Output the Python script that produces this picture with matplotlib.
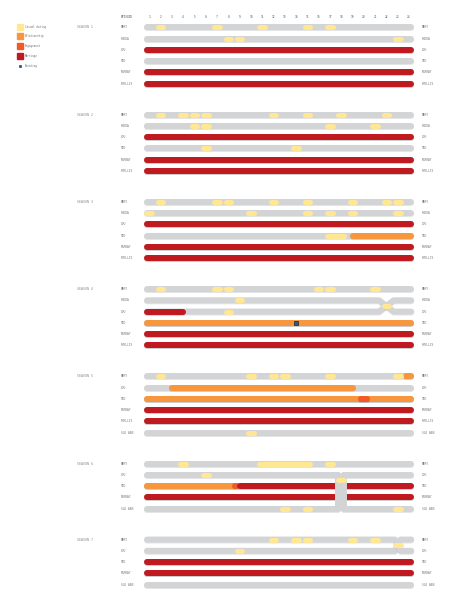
import matplotlib
matplotlib.use("Agg")
import matplotlib.pyplot as plt
import matplotlib.patheffects as pe

episodes = list(range(1, 25))
seasons = ["SEASON 1", "SEASON 2", "SEASON 3", "SEASON 4", "SEASON 5", "SEASON 6", "SEASON 7"]

cast = [
    ["MARY", "RHODA", "LOU", "TED", "MURRAY", "PHYLLIS"],
    ["MARY", "RHODA", "LOU", "TED", "MURRAY", "PHYLLIS"],
    ["MARY", "RHODA", "LOU", "TED", "MURRAY", "PHYLLIS"],
    ["MARY", "RHODA", "LOU", "TED", "MURRAY", "PHYLLIS"],
    ["MARY", "LOU", "TED", "MURRAY", "PHYLLIS", "SUE ANN"],
    ["MARY", "LOU", "TED", "MURRAY", "SUE ANN"],
    ["MARY", "LOU", "TED", "MURRAY", "SUE ANN"],
]

# casual dates per season: episode or (first, last)
casual = [
    {"MARY": [2, 7, 11, 15, 17], "RHODA": [8, 9, 23]},
    {"MARY": [2, 4, 5, 6, 12, 15, 18, 22], "RHODA": [5, 6, 17, 21], "TED": [6, 14]},
    {"MARY": [2, 7, 8, 12, 15, 19, 22, 23], "RHODA": [1, 10, 15, 17, 19, 23], "TED": [(17, 18)]},
    {"MARY": [2, 7, 8, 16, 17, 21], "RHODA": [9], "LOU": [8]},
    {"MARY": [2, 10, 12, 13, 17, 23], "SUE ANN": [10]},
    {"MARY": [4, (11, 15), 17], "LOU": [6], "SUE ANN": [13, 15, 23]},
    {"MARY": [12, 14, 15, 19, 21], "LOU": [9]},
]

# (person, status, first ep, last ep), drawn in this order
steady = [
    [("LOU", "Marriage", 1, 24), ("MURRAY", "Marriage", 1, 24), ("PHYLLIS", "Marriage", 1, 24)],
    [("LOU", "Marriage", 1, 24), ("MURRAY", "Marriage", 1, 24), ("PHYLLIS", "Marriage", 1, 24)],
    [("LOU", "Marriage", 1, 24), ("TED", "Relationship", 19, 24),
     ("MURRAY", "Marriage", 1, 24), ("PHYLLIS", "Marriage", 1, 24)],
    [("LOU", "Marriage", 1, 4), ("TED", "Relationship", 1, 24),
     ("MURRAY", "Marriage", 1, 24), ("PHYLLIS", "Marriage", 1, 24)],
    [("MARY", "Relationship", 24, 24), ("LOU", "Relationship", 3, 19),
     ("TED", "Relationship", 1, 24), ("TED", "Engagement", 20, 20),
     ("MURRAY", "Marriage", 1, 24), ("PHYLLIS", "Marriage", 1, 24)],
    [("TED", "Relationship", 1, 8.5), ("TED", "Engagement", 8.6, 8.8),
     ("TED", "Marriage", 9, 24), ("MURRAY", "Marriage", 1, 24)],
    [("TED", "Marriage", 1, 24), ("MURRAY", "Marriage", 1, 24)],
]

# two characters dating each other: (season, person a, person b, episode)
crossings = [(3, "RHODA", "LOU", 22), (5, "LOU", "SUE ANN", 18), (6, "MARY", "LOU", 23)]
cheating = [(3, "TED", 14)]

colors = {"Casual dating": "#ffe794", "Relationship": "#f7963d",
          "Engagement": "#f15a24", "Marriage": "#c0191f", "Cheating": "#2b5c8a"}
gray = "#d3d4d6"

fig = plt.figure(figsize=(4.5, 6.06), dpi=100)
ax = fig.add_axes([0, 0, 1, 1])
ax.set_xlim(1 - 149.3 / 11.29, 1 + (450 - 149.3) / 11.29)
ax.set_ylim(606, 0)
ax.axis("off")

BAR = 4.3
PILL = 3.6
X0, X1 = 0.8, 24.2
shadow = [pe.SimpleLineShadow(offset=(0, -0.7), shadow_color="0.4", alpha=0.18), pe.Normal()]
font = "DejaVu Sans Mono"

# row positions
starts = []
s0 = 27.3
for names in cast:
    starts.append(s0)
    s0 += (len(names) - 1) * 11.25 + 31
def ypos(s, name):
    return starts[s] + cast[s].index(name) * 11.25

def line(xs, ys, c, lw=BAR, z=2, fx=True):
    ax.plot(xs, ys, color=c, lw=lw, solid_capstyle="round", solid_joinstyle="round",
            zorder=z, path_effects=shadow if fx else None)

ax.text(-1.53, 17, "EPISODE", fontsize=2.2, family=font, color="#555", va="center")
for e in episodes:
    ax.text(e, 17, str(e), fontsize=2.2, family=font, color="#555", ha="center", va="center")

for s, names in enumerate(cast):
    ax.text(-5.43, starts[s], seasons[s], fontsize=2.3, family=font, color="#888", va="center")
    cross = {}
    for cs, a, b, ep in crossings:
        if cs == s:
            cross[a] = (b, ep)
            cross[b] = (a, ep)
    for name in names:
        y = ypos(s, name)
        ax.text(-1.53, y, name, fontsize=2.2, family=font, color="#777", va="center")
        ax.text(25.16, y, name, fontsize=2.2, family=font, color="#777", va="center")
        if name not in cross:
            line([X0, X1], [y, y], gray)
            continue
        other, ep = cross[name]
        yo = ypos(s, other)
        if abs(cast[s].index(name) - cast[s].index(other)) == 1:
            w = 0.65 if ep == 22 else 0.25
            ym = (y + yo) / 2
            line([X0, ep - w, ep], [y, y, ym], gray)
            line([ep, ep + w, X1], [ym, y, y], gray)
        else:
            w = 0.25
            line([X0, ep - w], [y, y], gray)
            line([ep + w, X1], [y, y], gray)
            line([ep - w, ep - w], [y, yo], gray, z=3.5, fx=False)
            line([ep + w, ep + w], [yo, y], gray, z=3.5, fx=False)

    for name, status, a, b in steady[s]:
        y = ypos(s, name)
        pad = 0.25 if a == b else 0
        xa = X0 if a == 1 else a - pad
        xb = X1 if b == 24 else b + pad
        line([xa, xb], [y, y], colors[status], z=3)

    for name, dates in casual[s].items():
        y = ypos(s, name)
        for d in dates:
            a, b = d if isinstance(d, tuple) else (d, d)
            line([a - 0.25, b + 0.25], [y, y], colors["Casual dating"], lw=PILL, z=4, fx=False)

for s, a, b, ep in crossings:
    ya = ypos(s, a)
    ym = ya + 11.25 / 2
    line([ep - 0.25, ep + 0.25], [ym, ym], colors["Casual dating"], lw=PILL, z=4, fx=False)

for s, name, ep in cheating:
    ax.plot(ep, ypos(s, name), "s", ms=2.2, mfc=colors["Cheating"], mec="#222", mew=0.5, zorder=5)

# legend
legend = ["Casual dating", "Relationship", "Engagement", "Marriage", "Cheating"]
ly = [26.7, 36.2, 46, 55.5, 65.5]
for lab, y in zip(legend, ly):
    if lab == "Cheating":
        ax.plot([20 / 450], [1 - y / 606], "s", ms=1.8, mfc=colors[lab], mec="#222", mew=0.4,
                transform=fig.transFigure, clip_on=False)
    else:
        ax.plot([20 / 450], [1 - y / 606], "s", ms=3.8, color=colors[lab],
                transform=fig.transFigure, clip_on=False)
    fig.text(25 / 450, 1 - y / 606, lab, fontsize=2.0, family=font, color="#777", va="center")

fig.savefig("out.png", dpi=100)
